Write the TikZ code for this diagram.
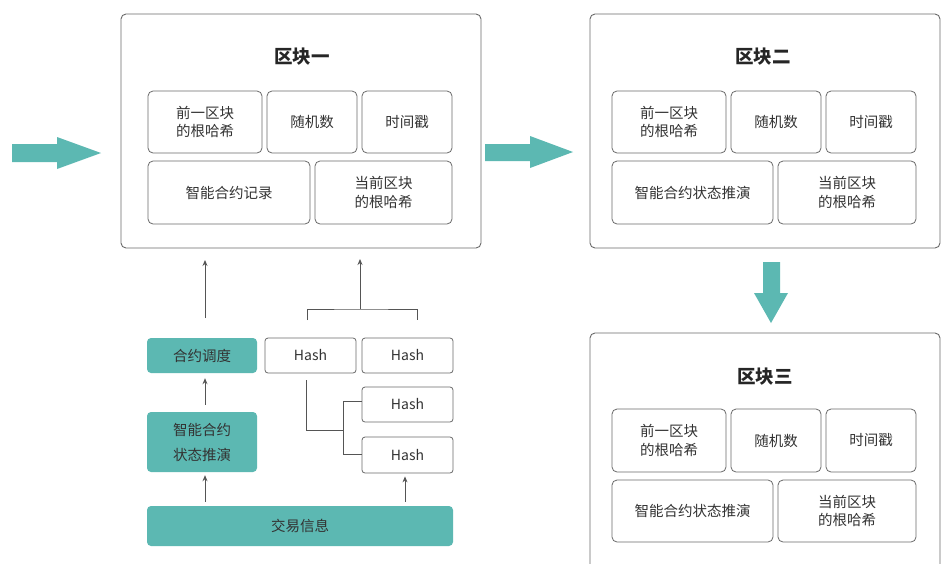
\documentclass[tikz,border=0pt]{standalone}
\usepackage{fontspec}
\setmainfont{Noto Sans CJK SC}
\usetikzlibrary{arrows.meta}
\definecolor{teal1}{HTML}{5CB8B2}
\definecolor{linec}{HTML}{555555}
\definecolor{boxc}{HTML}{6A6A6A}
\definecolor{txt}{HTML}{333333}
\tikzset{
  blockbox/.style={draw=boxc, line width=0.9pt, rounded corners=5pt, fill=white},
  cell/.style={draw=boxc, line width=0.8pt, rounded corners=5pt, inner sep=0pt, align=center, font=\fontsize{14.5}{18.5}\selectfont, text=txt},
  tealbox/.style={fill=teal1, rounded corners=4pt, inner sep=0pt, align=center, font=\fontsize{14.5}{25}\selectfont, text=txt},
  hashbox/.style={draw=boxc, line width=0.8pt, rounded corners=3pt, inner sep=0pt, font=\fontsize{14}{17}\selectfont, text=txt},
  title/.style={font=\bfseries\fontsize{18.5}{22}\selectfont, text=black!85},
  conn/.style={draw=linec, line width=0.9pt},
  upar/.style={conn, -{Stealth[length=6pt,width=5pt]}},
  fat/.style={fill=teal1, draw=none}
}
\newcommand{\cellbox}[5]{%
  \node[cell, minimum width={#4-#2}, minimum height={#5-#3}] (#1) at ({(#2+#4)/2},{(#3+#5)/2})}
\begin{document}
\begin{tikzpicture}[x=1pt,y=-1pt]
\useasboundingbox (0,0) rectangle (943,563);
\clip (0,0) rectangle (943,563);
\fill[white] (0,0) rectangle (943,563);

% Block 1
\node[blockbox, minimum width=360, minimum height=234] (b1) at (301,131) {};
\node[title] (t1) at (302,57) {区块一};
\cellbox{a1}{148}{91}{262}{153} {前一区块\\的根哈希};
\cellbox{r1}{267}{91}{357}{153} {随机数};
\cellbox{s1}{362}{91}{452}{153} {时间戳};
\cellbox{c1}{148}{161}{310}{224} {智能合约记录};
\cellbox{h1}{315}{161}{452}{224} {当前区块\\的根哈希};

% Block 2
\node[blockbox, minimum width=350, minimum height=234] (b2) at (765,131) {};
\node[title] (t2) at (763,57) {区块二};
\cellbox{a2}{612}{91}{726}{153} {前一区块\\的根哈希};
\cellbox{r2}{731}{91}{821}{153} {随机数};
\cellbox{s2}{826}{91}{916}{153} {时间戳};
\cellbox{c2}{612}{161}{773}{224} {智能合约状态推演};
\cellbox{h2}{778}{161}{916}{224} {当前区块\\的根哈希};

% Block 3
\node[blockbox, minimum width=350, minimum height=260] (b3) at (765,463) {};
\node[title] (t3) at (765,377) {区块三};
\cellbox{a3}{612}{409}{726}{472} {前一区块\\的根哈希};
\cellbox{r3}{731}{409}{821}{472} {随机数};
\cellbox{s3}{826}{409}{916}{472} {时间戳};
\cellbox{c3}{612}{480}{773}{542} {智能合约状态推演};
\cellbox{h3}{778}{480}{916}{542} {当前区块\\的根哈希};

% Fat arrows
\fill[fat] (12,144) -- (57,144) -- (57,137) -- (101,153) -- (57,169) -- (57,162) -- (12,162) -- cycle;
\fill[fat] (485,144) -- (530,144) -- (530,136) -- (573,152) -- (530,168) -- (530,161) -- (485,161) -- cycle;
\fill[fat] (763,262) -- (780,262) -- (780,293) -- (788,293) -- (771,323) -- (754,293) -- (763,293) -- cycle;

% Bottom-left
\node[tealbox, minimum width=110, minimum height=35] (dd) at (202,355.5) {合约调度};
\node[tealbox, minimum width=110, minimum height=60] (zn) at (202,442) {智能合约\\状态推演};
\node[tealbox, minimum width=306, minimum height=40] (jy) at (300,526) {交易信息};
\node[hashbox, minimum width=91, minimum height=35] (hs1) at (310.5,355.5) {Hash};
\node[hashbox, minimum width=91, minimum height=35] (hs2) at (407.5,355.5) {Hash};
\node[hashbox, minimum width=91, minimum height=35] (hs3) at (407.5,404.5) {Hash};
\node[hashbox, minimum width=91, minimum height=36] (hs4) at (407.5,455) {Hash};

% Connectors
\coordinate (u1s) at (205,318);
\coordinate (u1e) at (205,260);
\draw[upar] (u1s) -- (u1e);
\draw[upar] ([yshift=7pt]zn.north -| u1s) -- ([yshift=-5pt]dd.south -| u1s);
\draw[upar] ([yshift=4pt]jy.north -| u1s) -- ([yshift=-3pt]zn.south -| u1s);
\coordinate (hx) at (405,0);
\draw[upar] ([yshift=4pt]jy.north -| hx) -- ([yshift=-3pt]hs4.south -| hx);

% bracket above hashes
\coordinate (brl) at (307,320);
\coordinate (brr) at (417,320);
\coordinate (brm) at (360,309);
\coordinate (bre) at (360,259);
\draw[conn] (brl) |- (brm) -| (brr);
\draw[upar] (brm) -- (bre);

% tree connector
\coordinate (tr1) at (306,380);
\coordinate (tr2) at (343,430);
\coordinate (tr3) at (343,401);
\coordinate (tr4) at (343,454);
\draw[conn] (tr1) |- (tr2);
\draw[conn] (tr3 -| hs3.west) -- (tr3) -- (tr4) -- (tr4 -| hs4.west);
\end{tikzpicture}
\end{document}
